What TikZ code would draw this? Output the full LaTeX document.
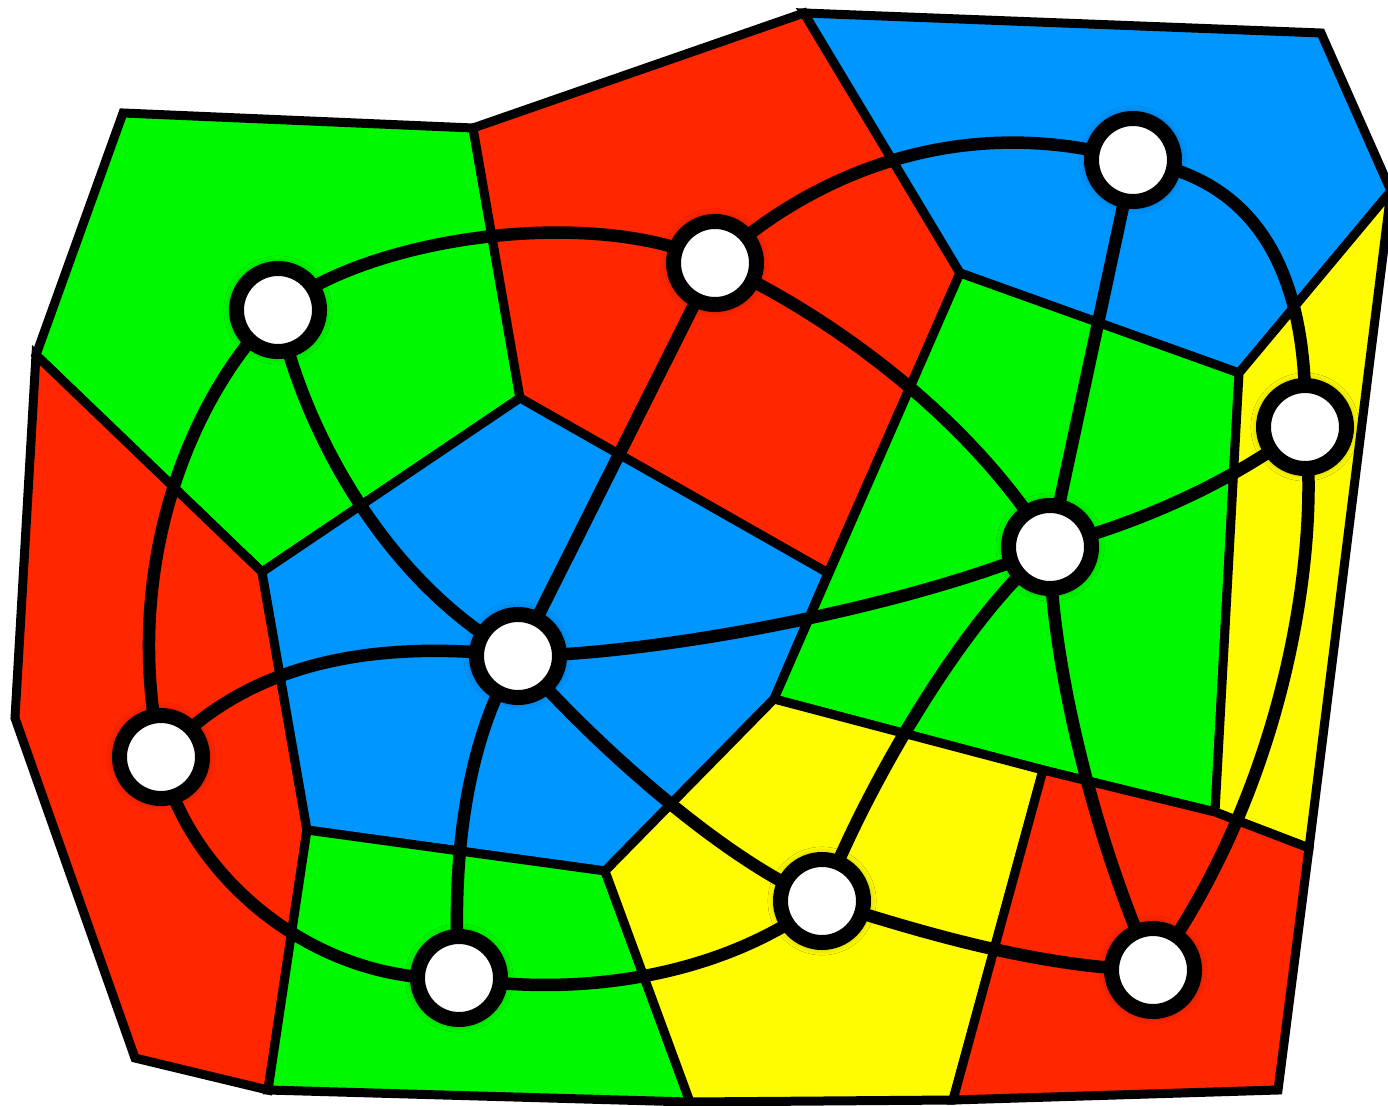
\documentclass[tikz,border=0pt]{standalone}
\usepackage{tikz}
\usetikzlibrary{backgrounds,shadows.blur}
\definecolor{mapred}   {HTML}{FF2600}
\definecolor{mapgreen} {HTML}{00F900}
\definecolor{mapblue}  {HTML}{0096FF}
\definecolor{mapyellow}{HTML}{FFFB00}

\begin{document}
\begin{tikzpicture}[x=1pt,y=-1pt,
    region/.style={draw=black, line width=9pt},
    vertex/.style={circle, draw=black, fill=white, line width=15pt,
      minimum size=83pt, inner sep=0pt,
      blur shadow={shadow xshift=0pt, shadow yshift=0pt, shadow scale=1.14,
        shadow blur radius=6pt, shadow opacity=30}},
    link/.style={draw=black, line width=12.5pt}]
  \useasboundingbox (0,0) rectangle (1388,1105);

  % one vertex per country
  \node[vertex] (v1)  at (278,310)  {};
  \node[vertex] (v2)  at (715,263)  {};
  \node[vertex] (v3)  at (1133,160) {};
  \node[vertex] (v4)  at (1305,427) {};
  \node[vertex] (v5)  at (1050,547) {};
  \node[vertex] (v6)  at (518,656)  {};
  \node[vertex] (v7)  at (161,757)  {};
  \node[vertex] (v8)  at (459,978)  {};
  \node[vertex] (v9)  at (822,901)  {};
  \node[vertex] (v10) at (1153,970) {};

  \begin{scope}[on background layer]
    % corners of the map
    \coordinate (o1) at (123,113);   \coordinate (o2) at (473,128);
    \coordinate (o3) at (804,13);    \coordinate (o4) at (1321,33);
    \coordinate (o5) at (1391,191);  \coordinate (o6) at (15,718);
    \coordinate (o7) at (135,1058);  \coordinate (b1) at (268,1090);
    \coordinate (b2) at (690,1102);  \coordinate (b3) at (953,1100);
    \coordinate (b4) at (1278,1090);
    \coordinate (i1) at (36,355);    \coordinate (i2) at (262,572);
    \coordinate (i3) at (520,398);   \coordinate (i4) at (307,830);
    \coordinate (i5) at (605,871);   \coordinate (i6) at (828,573);
    \coordinate (i7) at (960,273);   \coordinate (i8) at (1239,373);
    \coordinate (i9) at (774,699);   \coordinate (i10) at (1043,770);
    \coordinate (i11) at (1215,812); \coordinate (i12) at (1309,848);

    % countries
    \filldraw[region, fill=mapgreen]  (o1) -- (o2) -- (i3) -- (i2) -- (i1) -- cycle;
    \filldraw[region, fill=mapred]    (o2) -- (o3) -- (i7) -- (i6) -- (i3) -- cycle;
    \filldraw[region, fill=mapblue]   (o3) -- (o4) -- (o5) -- (i8) -- (i7) -- cycle;
    \filldraw[region, fill=mapred]    (i1) -- (i2) -- (i4) -- (b1) -- (o7) -- (o6) -- cycle;
    \filldraw[region, fill=mapblue]   (i2) -- (i3) -- (i6) -- (i9) -- (i5) -- (i4) -- cycle;
    \filldraw[region, fill=mapgreen]  (i7) -- (i8) -- (i11) -- (i10) -- (i9) -- cycle;
    \filldraw[region, fill=mapyellow] (o5) -- (i12) -- (i11) -- (i8) -- cycle;
    \filldraw[region, fill=mapgreen]  (i4) -- (i5) -- (b2) -- (b1) -- cycle;
    \filldraw[region, fill=mapyellow] (i5) -- (i9) -- (i10) -- (b3) -- (b2) -- cycle;
    \filldraw[region, fill=mapred]    (i10) -- (i11) -- (i12) -- (b4) -- (b3) -- cycle;

    % dual graph
    \draw[link] (v1.center) .. controls (370,235) and (600,205) .. (v2.center);
    \draw[link] (v2.center) .. controls (810,175) and (960,110) .. (v3.center);
    \draw[link] (v3.center) .. controls (1240,175) and (1310,250) .. (v4.center);
    \draw[link] (v3.center) -- (v5.center);
    \draw[link] (v2.center) -- (v6.center);
    \draw[link] (v2.center) .. controls (800,300) and (960,400) .. (v5.center);
    \draw[link] (v1.center) .. controls (300,420) and (380,580) .. (v6.center);
    \draw[link] (v1.center) .. controls (190,395) and (120,570) .. (v7.center);
    \draw[link] (v7.center) .. controls (230,680) and (340,635) .. (v6.center);
    \draw[link] (v6.center) .. controls (650,655) and (900,610) .. (v5.center);
    \draw[link] (v5.center) .. controls (1130,525) and (1220,490) .. (v4.center);
    \draw[link] (v6.center) .. controls (470,730) and (450,850) .. (v8.center);
    \draw[link] (v6.center) .. controls (580,730) and (720,860) .. (v9.center);
    \draw[link] (v7.center) .. controls (185,870) and (310,985) .. (v8.center);
    \draw[link] (v8.center) .. controls (560,995) and (710,985) .. (v9.center);
    \draw[link] (v9.center) .. controls (860,800) and (960,620) .. (v5.center);
    \draw[link] (v9.center) .. controls (900,925) and (1030,968) .. (v10.center);
    \draw[link] (v5.center) .. controls (1050,650) and (1090,830) .. (v10.center);
    \draw[link] (v4.center) .. controls (1320,540) and (1290,780) .. (v10.center);
  \end{scope}
\end{tikzpicture}
\end{document}
